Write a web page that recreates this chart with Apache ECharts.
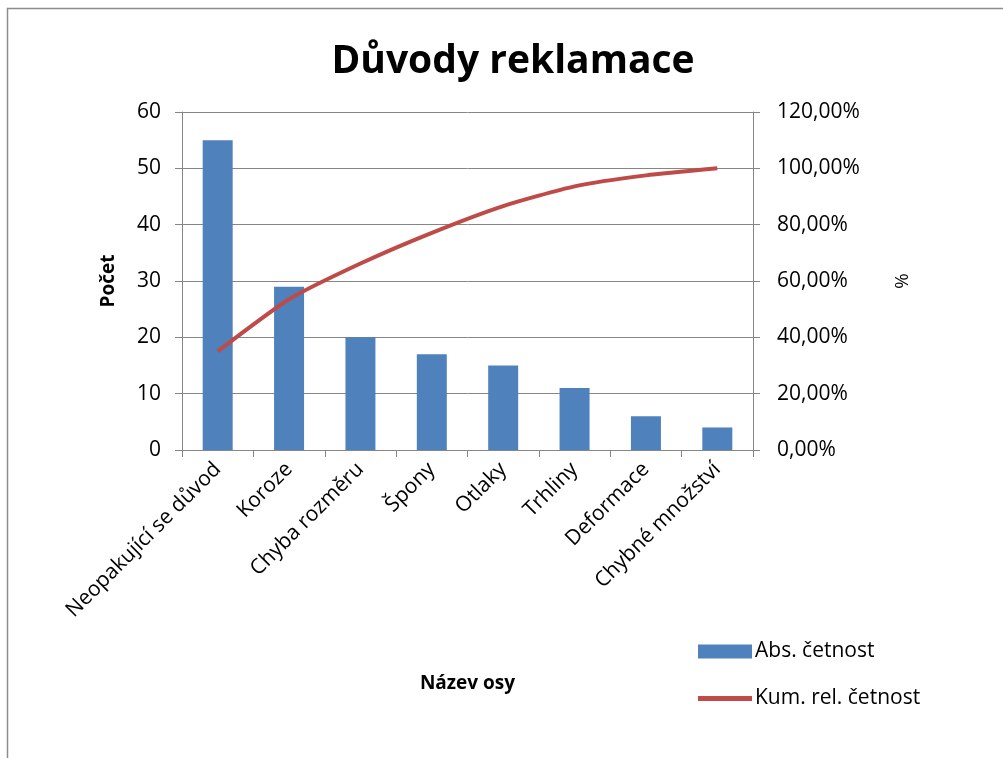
<!DOCTYPE html>
<html>
<head>
<meta charset="utf-8">
<script src="https://cdn.jsdelivr.net/npm/echarts@6/dist/echarts.min.js"></script>
<style>
  html, body { margin: 0; padding: 0; background: #fff; }
  #chart { width: 1003px; height: 758px; }
</style>
</head>
<body>
<div id="chart"></div>
<script>
var categories = ['Neopakující se důvod', 'Koroze', 'Chyba rozměru', 'Špony', 'Otlaky', 'Trhliny', 'Deformace', 'Chybné množství'];
var absCetnost = [55, 29, 20, 17, 15, 11, 6, 4];
var kumRelCetnost = [35.0, 53.5, 66.2, 77.1, 86.6, 93.6, 97.5, 100.0];

var font = 'Open Sans';
var chart = echarts.init(document.getElementById('chart'));

var option = {
    backgroundColor: '#fff',
    animation: false,
    textStyle: { fontFamily: font },
    title: {
        text: 'Důvody reklamace',
        left: 508,
        textAlign: 'center',
        top: 37,
        textStyle: { fontFamily: font, fontSize: 39, fontWeight: 'bold', color: '#000' }
    },
    graphic: [{
        type: 'rect',
        shape: { x: 7.5, y: 8.5, width: 1100, height: 900 },
        style: { fill: 'none', stroke: '#8c8c8c', lineWidth: 1.5 },
        silent: true
    }],
    legend: {
        orient: 'vertical',
        left: 693,
        top: 636,
        itemWidth: 54,
        itemHeight: 14,
        itemGap: 26,
        textStyle: { fontFamily: font, fontSize: 21, color: '#000', padding: [0, 0, 0, -2] },
        data: [
            { name: 'Abs. četnost', icon: 'rect' },
            { name: 'Kum. rel. četnost', icon: 'path://M0,0 L54,0 L54,5 L0,5 Z', itemStyle: { color: '#be4b48' } }
        ]
    },
    grid: { left: 182, right: 250, top: 112, bottom: 308 },
    xAxis: {
        type: 'category',
        data: categories,
        name: 'Název osy',
        nameLocation: 'middle',
        nameGap: 224,
        nameTextStyle: { fontFamily: font, fontSize: 19, fontWeight: 'bold', color: '#000' },
        axisLine: { lineStyle: { color: '#868686', width: 1 } },
        axisTick: { show: true, alignWithLabel: false, length: 7, lineStyle: { color: '#868686' } },
        axisLabel: { rotate: 45, fontFamily: font, fontSize: 21, color: '#000', margin: 16, interval: 0 }
    },
    yAxis: [{
        type: 'value',
        min: 0, max: 60, interval: 10,
        name: 'Počet',
        nameLocation: 'middle',
        nameRotate: 90,
        nameGap: 64,
        nameTextStyle: { fontFamily: font, fontSize: 19, fontWeight: 'bold', color: '#000' },
        axisLine: { show: true, lineStyle: { color: '#868686' } },
        axisTick: { show: true, length: 7, lineStyle: { color: '#868686' } },
        axisLabel: { fontFamily: font, fontSize: 21, color: '#000', margin: 21 },
        splitLine: { lineStyle: { color: '#868686', width: 1 } }
    }, {
        type: 'value',
        min: 0, max: 120, interval: 20,
        name: '%',
        nameLocation: 'middle',
        nameRotate: -90,
        nameGap: 138,
        nameTextStyle: { fontFamily: font, fontSize: 19, color: '#000' },
        axisLine: { show: true, lineStyle: { color: '#868686' } },
        axisTick: { show: true, length: 7, lineStyle: { color: '#868686' } },
        axisLabel: {
            fontFamily: font, fontSize: 21, color: '#000', margin: 24,
            formatter: function (v) { return v.toFixed(2).replace('.', ',') + '%'; }
        },
        splitLine: { show: false }
    }],
    series: [{
        name: 'Abs. četnost',
        type: 'bar',
        data: absCetnost,
        barWidth: 30,
        itemStyle: { color: '#4f81bd' }
    }, {
        name: 'Kum. rel. četnost',
        type: 'line',
        yAxisIndex: 1,
        data: kumRelCetnost,
        smooth: 0.2,
        symbol: 'none',
        lineStyle: { color: '#be4b48', width: 4 },
        itemStyle: { color: '#be4b48' }
    }]
};

chart.setOption(option);
</script>
</body>
</html>
